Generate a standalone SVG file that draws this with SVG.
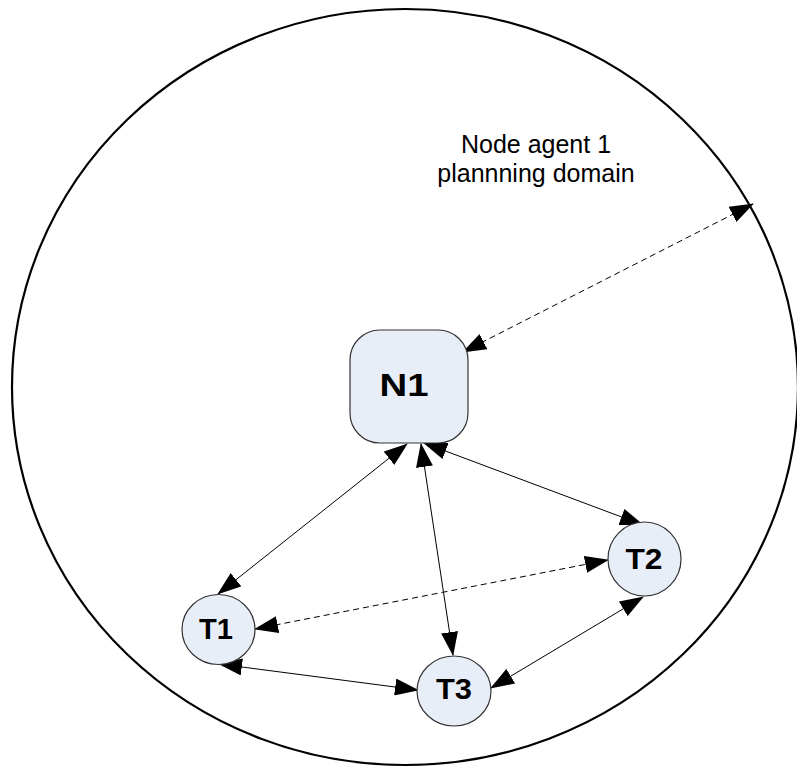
<svg xmlns="http://www.w3.org/2000/svg" width="797" height="767" viewBox="0 0 797 767">
<style>
.node{fill:#E8EEF8;stroke:#333;stroke-width:1.2}
.lbl{font-family:"Liberation Sans",Arial,sans-serif;font-weight:bold;fill:#000;text-anchor:middle}
.c{stroke:#000;stroke-width:1;fill:none;marker-start:url(#ah);marker-end:url(#ah)}
.d{stroke-dasharray:6 4}
</style>
<defs>
<marker id="ah" viewBox="0 0 24 17" refX="23" refY="8.5" markerWidth="24" markerHeight="17" markerUnits="userSpaceOnUse" orient="auto-start-reverse">
<path d="M0,0 L24,8.5 L0,17 z" fill="#000"/>
</marker>
</defs>
<rect width="797" height="767" fill="#fff"/>
<g id="domain">
<ellipse cx="405" cy="387" rx="393" ry="378" fill="none" stroke="#000" stroke-width="2.2"/>
<text x="536" y="153" font-family="'Liberation Sans',Arial,sans-serif" font-size="25" text-anchor="middle">Node agent 1</text>
<text x="536" y="182" font-family="'Liberation Sans',Arial,sans-serif" font-size="25" text-anchor="middle">plannning domain</text>
</g>
<g id="connectors">
<line class="c d" x1="463" y1="352" x2="753" y2="204"/>
<line class="c" x1="407" y1="444" x2="218" y2="594"/>
<line class="c" x1="421" y1="444" x2="453" y2="655"/>
<line class="c" x1="424" y1="443" x2="643" y2="525"/>
<line class="c d" x1="255" y1="629" x2="608" y2="560"/>
<line class="c" x1="219" y1="664" x2="418" y2="690"/>
<line class="c" x1="491" y1="688" x2="643" y2="597"/>
</g>
<g id="N1">
<rect class="node" x="350" y="330" width="118" height="113" rx="30" ry="30"/>
<text class="lbl" x="404" y="396" font-size="32" textLength="49" lengthAdjust="spacingAndGlyphs">N1</text>
</g>
<g id="T1">
<ellipse class="node" cx="218.5" cy="629.5" rx="36.5" ry="35"/>
<text class="lbl" x="216" y="639" font-size="30" textLength="34" lengthAdjust="spacingAndGlyphs">T1</text>
</g>
<g id="T2">
<ellipse class="node" cx="644.5" cy="559" rx="36.5" ry="37"/>
<text class="lbl" x="644" y="569" font-size="30" textLength="37" lengthAdjust="spacingAndGlyphs">T2</text>
</g>
<g id="T3">
<ellipse class="node" cx="454" cy="691" rx="37" ry="35"/>
<text class="lbl" x="454" y="699" font-size="30" textLength="36" lengthAdjust="spacingAndGlyphs">T3</text>
</g>
</svg>
